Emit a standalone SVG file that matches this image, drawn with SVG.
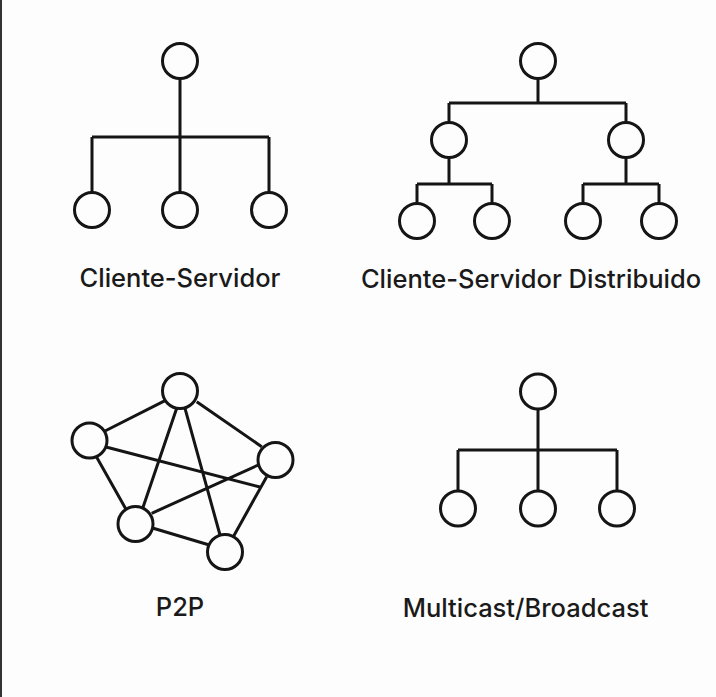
<svg xmlns="http://www.w3.org/2000/svg" width="716" height="697" viewBox="0 0 716 697">
<style>
.n{fill:#fdfdfd;stroke:#151515;stroke-width:3}
.e{fill:none;stroke:#151515;stroke-width:3;stroke-linecap:butt}
.t{font-family:Inter,"Liberation Sans",sans-serif;font-size:25.5px;fill:#1a1a1a;text-anchor:middle;font-weight:500}
</style>
<rect width="716" height="697" fill="#fdfdfd"/>
<line x1="1" y1="0" x2="1" y2="697" stroke="#333" stroke-width="2"/>
<g id="connectors">
<path class="e" d="M180 78V192M92 137H269M92 137V192M269 137V192"/>
<path class="e" d="M538 78V103M449 103H626M449 103V122M626 103V122M449 158V184M417 184H492M417 184V203M492 184V203M626 158V184M583 184H659M583 184V203M659 184V203"/>
<path class="e" d="M165 400.7L105 431M196.7 401.7L261.7 446.7M176.7 408.3L142.7 508.3M185 408.3L220 535M96.7 457.3L126 509.3M106 447L260 487M151.7 513.3L258.3 465M153.3 528.3L209.3 545M266.7 476.7L233.3 536.7"/>
<path class="e" d="M538 409V450M458 450H617M458 450V491M617 450V491M538 450V491"/>
</g>
<g id="cs-server"><circle class="n" cx="180" cy="61" r="17.5"/></g>
<g id="cs-client1"><circle class="n" cx="92" cy="210" r="17.5"/></g>
<g id="cs-client2"><circle class="n" cx="180" cy="210" r="17.5"/></g>
<g id="cs-client3"><circle class="n" cx="269" cy="210" r="17.5"/></g>
<g id="cs-label"><text class="t" x="180" y="287">Cliente-Servidor</text></g>
<g id="csd-root"><circle class="n" cx="538" cy="61" r="17.5"/></g>
<g id="csd-mid1"><circle class="n" cx="449" cy="140" r="17.5"/></g>
<g id="csd-mid2"><circle class="n" cx="626" cy="140" r="17.5"/></g>
<g id="csd-leaf1"><circle class="n" cx="417" cy="221" r="17.5"/></g>
<g id="csd-leaf2"><circle class="n" cx="492" cy="221" r="17.5"/></g>
<g id="csd-leaf3"><circle class="n" cx="583" cy="221" r="17.5"/></g>
<g id="csd-leaf4"><circle class="n" cx="659" cy="221" r="17.5"/></g>
<g id="csd-label"><text class="t" x="531" y="288">Cliente-Servidor Distribuido</text></g>
<g id="p2p-top"><circle class="n" cx="180" cy="391" r="17.5"/></g>
<g id="p2p-left"><circle class="n" cx="89.5" cy="440.5" r="17.5"/></g>
<g id="p2p-right"><circle class="n" cx="275.5" cy="460" r="17.5"/></g>
<g id="p2p-bl"><circle class="n" cx="135.5" cy="524" r="17.5"/></g>
<g id="p2p-br"><circle class="n" cx="225" cy="552" r="17.5"/></g>
<g id="p2p-label"><text class="t" x="180" y="616">P2P</text></g>
<g id="mc-root"><circle class="n" cx="538" cy="391.5" r="17.5"/></g>
<g id="mc-leaf1"><circle class="n" cx="458" cy="508.5" r="17.5"/></g>
<g id="mc-leaf2"><circle class="n" cx="538" cy="508.5" r="17.5"/></g>
<g id="mc-leaf3"><circle class="n" cx="617" cy="508.5" r="17.5"/></g>
<g id="mc-label"><text class="t" x="525.5" y="616.5">Multicast/Broadcast</text></g>
</svg>
